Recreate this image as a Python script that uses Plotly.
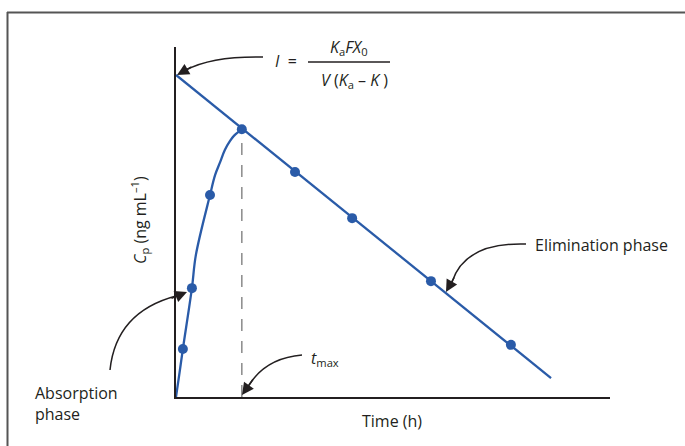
import plotly.graph_objects as go

# ---- data (time in h, concentration in arbitrary ng/mL units) ----
obs_time = [0.19, 0.44, 0.94, 1.82, 3.29, 4.87, 7.05, 9.26]
obs_conc = [1.37, 3.11, 5.77, 7.65, 6.43, 5.11, 3.31, 1.49]

absorb_time = [0.0, 0.10, 0.19, 0.44, 0.55, 0.94, 1.08, 1.22, 1.35, 1.49, 1.60, 1.71, 1.82]
absorb_conc = [0.0, 0.71, 1.37, 3.11, 4.06, 5.77, 6.34, 6.71, 7.06, 7.31, 7.46, 7.56, 7.63]

elim_time = [0.0, 10.37]
elim_conc = [9.2, 0.54]

tmax = 1.82
cmax = 7.65

BLUE = "#2a5ba8"
INK = "#231f20"
FONT = "Open Sans"

# plot area in pixels
L, R, T, B = 176, 610, 47, 397
W, H = 685, 446


def px(x):
    return (x - L) / (R - L)


def py(y):
    return (B - y) / (B - T)


fig = go.Figure()

fig.add_trace(go.Scatter(x=elim_time, y=elim_conc, mode="lines",
                         line=dict(color=BLUE, width=2.3), hoverinfo="skip"))
fig.add_trace(go.Scatter(x=absorb_time, y=absorb_conc, mode="lines",
                         line=dict(color=BLUE, width=2.3, shape="spline", smoothing=1.0),
                         hoverinfo="skip"))
fig.add_trace(go.Scatter(x=[tmax, tmax], y=[0, cmax], mode="lines",
                         line=dict(color="#8a8a8a", width=1.5, dash="12px,10px"),
                         hoverinfo="skip"))
fig.add_trace(go.Scatter(x=obs_time, y=obs_conc, mode="markers",
                         marker=dict(color=BLUE, size=10), hoverinfo="skip"))

shapes = []
# outer frame (top and left edges)
shapes.append(dict(type="line", xref="paper", yref="paper", x0=px(7), x1=px(685), y0=py(12.5), y1=py(12.5),
                   line=dict(color="#555555", width=2)))
shapes.append(dict(type="line", xref="paper", yref="paper", x0=px(7.5), x1=px(7.5), y0=py(12), y1=py(446),
                   line=dict(color="#555555", width=2)))
# fraction bar
shapes.append(dict(type="line", xref="paper", yref="paper", x0=px(308), x1=px(390), y0=py(62), y1=py(62),
                   line=dict(color=INK, width=1.5)))


def curve(p0, c, p1):
    return dict(type="path", xref="paper", yref="paper",
                path=f"M {px(p0[0])},{py(p0[1])} Q {px(c[0])},{py(c[1])} {px(p1[0])},{py(p1[1])}",
                line=dict(color=INK, width=1.5))


shapes.append(curve((263, 57), (212, 56), (186, 70)))
shapes.append(curve((110, 370), (116, 312), (176, 296)))
shapes.append(curve((526, 244), (465, 242), (452, 282)))
shapes.append(curve((302, 355), (266, 358), (249, 385)))

annotations = []


def head(tip, frm):
    annotations.append(dict(xref="paper", yref="paper", x=px(tip[0]), y=py(tip[1]),
                            ax=frm[0] - tip[0], ay=frm[1] - tip[1], text="",
                            showarrow=True, arrowhead=2, arrowsize=1.6, arrowwidth=1.5,
                            arrowcolor=INK))


head((177, 75), (193, 66))
head((187, 292), (170, 299))
head((446, 292), (455, 276))
head((242, 395), (254, 378))


def label(x, y, text, size=16, xanchor="center", **kw):
    annotations.append(dict(xref="paper", yref="paper", x=px(x), y=py(y), text=text,
                            xanchor=xanchor, yanchor="middle",
                            showarrow=False, font=dict(family=FONT, size=size, color=INK), **kw))


label(286, 61, "<i>I</i>  =", 16)
label(349, 47, "<i>K</i><sub>a</sub><i>FX</i><sub>0</sub>", 16)
label(354, 80, "<i>V</i> (<i>K</i><sub>a</sub> – <i>K</i> )", 16)
label(33, 403, "Absorption<br>phase", 16, xanchor="left", align="left")
label(533, 245, "Elimination phase", 16, xanchor="left")
label(325, 358, "<i>t</i><sub>max</sub>", 16)
label(392, 421, "Time (h)", 16)
label(139, 220, "<i>C</i><sub>p</sub> (ng mL<sup>–1</sup>)", 16, textangle=-90)

fig.update_layout(
    width=W, height=H,
    margin=dict(l=L, r=W - R, t=T, b=H - B),
    paper_bgcolor="white", plot_bgcolor="white",
    showlegend=False,
    shapes=shapes, annotations=annotations,
    xaxis=dict(range=[0, 12], showline=True, linecolor=INK, linewidth=1.5,
               showgrid=False, zeroline=False, showticklabels=False, ticks=""),
    yaxis=dict(range=[0, 10], showline=True, linecolor=INK, linewidth=1.5,
               showgrid=False, zeroline=False, showticklabels=False, ticks=""),
)

fig.write_html("out.html")
